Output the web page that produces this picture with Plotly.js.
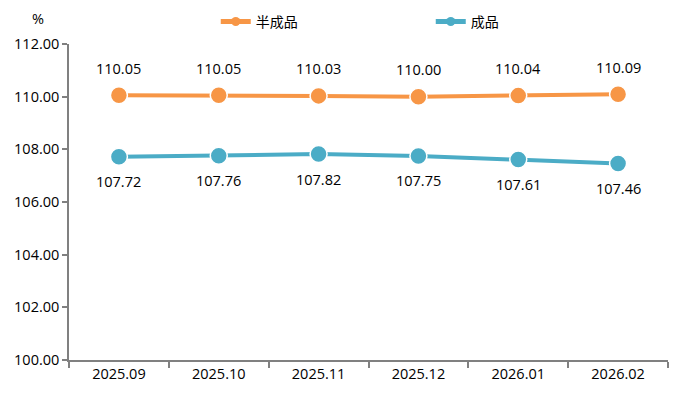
<!DOCTYPE html>
<html><head><meta charset="utf-8">
<script src="https://cdn.plot.ly/plotly-3.0.1.min.js"></script>
<style>html,body{margin:0;padding:0;background:#fff}#chart{width:682px;height:399px}</style>
</head><body><div id="chart"></div>
<script>
var categories = ['2025.09','2025.10','2025.11','2025.12','2026.01','2026.02'];
var semiFinished = [110.05,110.05,110.03,110.00,110.04,110.09];
var finished = [107.72,107.76,107.82,107.75,107.61,107.46];
var yTicks = [100,102,104,106,108,110,112];

var font = '"Segoe UI","Open Sans","Noto Sans CJK SC",sans-serif';
var fs = 14.5;
var orange = '#F79646', blue = '#4BACC6';
function mk(name, ys, color){
  return {
    type:'scatter', mode:'lines+markers', name:name, x:categories, y:ys,
    line:{color:color,width:4},
    marker:{color:color,size:17,line:{color:'#fff',width:1.5}},
    showlegend:false, cliponaxis:false
  };
}
function legendTrace(name, color){
  return {type:'scatter', mode:'lines+markers', name:name, x:[categories[0]], y:[-1000],
    line:{color:color,width:5}, marker:{color:color,size:9}, showlegend:true, hoverinfo:'skip'};
}
var data = [mk('半成品', semiFinished, orange), mk('成品', finished, blue),
            legendTrace('半成品', orange), legendTrace('成品', blue)];
var annotations = [];
function addLabels(ys, shift){
  ys.forEach(function(v,i){
    annotations.push({x:i, y:v, xref:'x', yref:'y', text:v.toFixed(2), showarrow:false,
      yshift:shift, xanchor:'center', yanchor:'middle', font:{family:font,size:fs,color:'#000'}});
  });
}
addLabels(semiFinished, 27);
addLabels(finished, -25);
annotations.push({text:'%', xref:'paper', yref:'paper', x:-0.052, y:1.082, xanchor:'center', yanchor:'middle', showarrow:false, font:{family:font,size:fs,color:'#000'}});

var layout = {
  width:682, height:399,
  margin:{l:69,r:14,t:44,b:39,autoexpand:false},
  paper_bgcolor:'#fff', plot_bgcolor:'#fff',
  font:{family:font,size:fs,color:'#000'},
  showlegend:true,
  legend:{orientation:'h', x:0.245, xanchor:'left', y:1.07, yanchor:'middle',
    entrywidth:170, entrywidthmode:'pixels', font:{family:font,size:14,color:'#000'}, itemwidth:30,
    tracegroupgap:0},
  xaxis:{type:'category', showgrid:false, zeroline:false, showline:true, linecolor:'#808080', linewidth:1.5,
    ticks:'outside', ticklen:6, tickcolor:'#808080', tickwidth:1.5, tickson:'boundaries',
    tickfont:{family:font,size:fs,color:'#000'}, range:[-0.5,5.5]},
  yaxis:{range:[100,112], tickvals:yTicks, tickformat:'.2f', showgrid:false, zeroline:false,
    showline:true, linecolor:'#808080', linewidth:1.5, ticks:'outside', ticklen:5, tickcolor:'#808080', tickwidth:1.5,
    tickfont:{family:font,size:fs,color:'#000'}},
  annotations:annotations
};
Plotly.newPlot('chart', data, layout, {displayModeBar:false});
</script></body></html>
